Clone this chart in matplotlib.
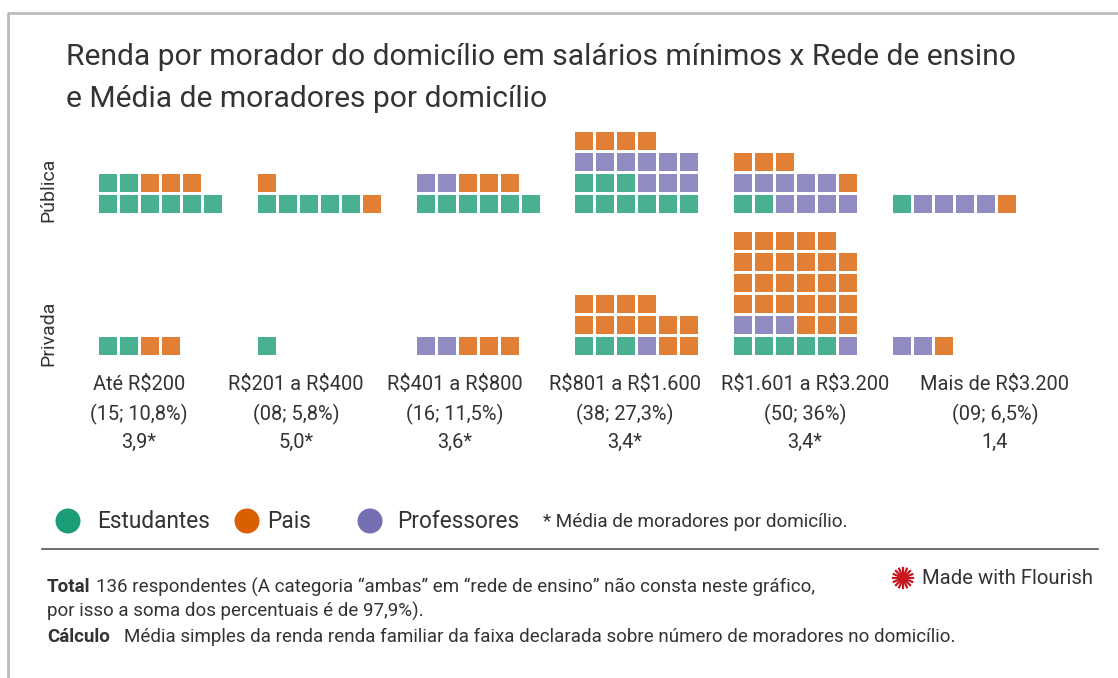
import matplotlib.pyplot as plt
from matplotlib.patches import Rectangle, Circle
import numpy as np

plt.rcParams['font.family'] = ['Roboto', 'DejaVu Sans']
plt.rcParams['text.parse_math'] = False

# income bands, counts per group (Estudantes, Professores, Pais)
bands = ["Até R$200", "R$201 a R$400", "R$401 a R$800",
         "R$801 a R$1.600", "R$1.601 a R$3.200", "Mais de R$3.200"]
shares = ["(15; 10,8%)", "(08; 5,8%)", "(16; 11,5%)",
          "(38; 27,3%)", "(50; 36%)", "(09; 6,5%)"]
moradores = ["3,9*", "5,0*", "3,6*", "3,4*", "3,4*", "1,4"]

publica_estudantes = [8, 5, 6, 9, 2, 1]
publica_professores = [0, 0, 2, 9, 9, 4]
publica_pais = [3, 2, 3, 4, 4, 1]

privada_estudantes = [2, 1, 0, 3, 5, 0]
privada_professores = [0, 0, 2, 1, 4, 2]
privada_pais = [2, 0, 3, 12, 26, 1]

colors = {"Estudantes": "#1b9e77", "Pais": "#d95f02", "Professores": "#7570b3"}
text_col = "#333333"

W, H = 1118, 678
fig = plt.figure(figsize=(W / 100, H / 100), dpi=100)
ax = fig.add_axes([0, 0, 1, 1])
ax.set_xlim(0, W)
ax.set_ylim(H, 0)
ax.axis("off")

# frame
ax.plot([8, 8, W], [H, 13, 13], color="#bbbbbb", lw=2, solid_capstyle="butt")

ax.text(66, 57, "Renda por morador do domicílio em salários mínimos x Rede de ensino",
        fontsize=21.6, color=text_col, va="center", ha="left")
ax.text(66, 99, "e Média de moradores por domicílio",
        fontsize=21.6, color=text_col, va="center", ha="left")

cell, pitch, ncols = 18, 21, 6
group_x0 = 99
group_step = 158.8
label_x = [139, 296, 455, 625, 805, 995]


def waffle(i, base, est, prof, pais):
    seq = (["Estudantes"] * est + ["Professores"] * prof + ["Pais"] * pais)
    x0 = group_x0 + i * group_step
    for k, name in enumerate(seq):
        r, c = divmod(k, ncols)
        ax.add_patch(Rectangle((x0 + c * pitch, base - r * pitch - cell), cell, cell,
                               facecolor=colors[name], alpha=0.8, edgecolor="none"))


for i in range(len(bands)):
    waffle(i, 213, publica_estudantes[i], publica_professores[i], publica_pais[i])
    waffle(i, 355, privada_estudantes[i], privada_professores[i], privada_pais[i])
    ax.text(label_x[i], 385, bands[i], fontsize=14.4, color=text_col, ha="center", va="center")
    ax.text(label_x[i], 414, shares[i], fontsize=14.4, color=text_col, ha="center", va="center")
    ax.text(label_x[i], 442, moradores[i], fontsize=14.4, color=text_col, ha="center", va="center")

ax.text(48, 190, "Pública", rotation=90, fontsize=14, color=text_col, ha="center", va="center")
ax.text(48, 333, "Privada", rotation=90, fontsize=14, color=text_col, ha="center", va="center")

# legend
for cx, name, tx in [(68, "Estudantes", 97), (247, "Pais", 267), (370, "Professores", 397)]:
    ax.add_patch(Circle((cx, 521), 12.5, facecolor=colors[name], edgecolor="none"))
    ax.text(tx, 521, name, fontsize=16.3, color=text_col, ha="left", va="center")
ax.text(543, 522, "* Média de moradores por domicílio.", fontsize=13.6, color=text_col,
        ha="left", va="center")

ax.plot([42, 1098], [549, 549], color="#555555", lw=1.2)

# footer
fs = 13.5
ax.text(47, 587, "Total", fontsize=fs, fontweight="bold", color=text_col, va="center")
ax.text(96, 587, "136 respondentes (A categoria “ambas” em “rede de ensino” não consta neste gráfico,",
        fontsize=fs, color=text_col, va="center")
ax.text(47, 611, "por isso a soma dos percentuais é de 97,9%).",
        fontsize=fs, color=text_col, va="center")
ax.text(47, 637, "Cálculo", fontsize=fs, fontweight="bold", color=text_col, va="center")
ax.text(124, 637, "Média simples da renda renda familiar da faixa declarada sobre número de moradores no domicílio.",
        fontsize=fs, color=text_col, va="center")

# flourish badge
ang = np.linspace(0, 2 * np.pi, 16, endpoint=False)
for a in ang:
    ax.plot([903, 903 + 10 * np.cos(a)], [578, 578 + 10 * np.sin(a)], color="#c8161d", lw=1.6)
ax.text(922, 578, "Made with Flourish", fontsize=14.6, color="#333333", va="center")

fig.savefig("out.png", dpi=100)
